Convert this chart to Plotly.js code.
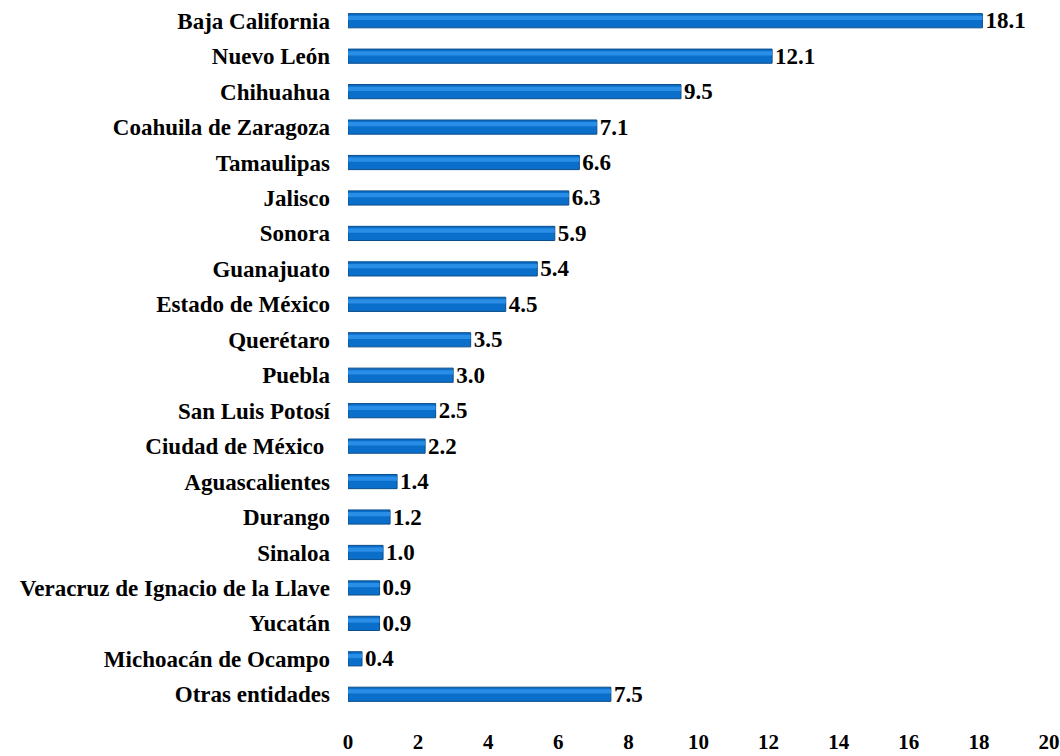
<!DOCTYPE html>
<html>
<head>
<meta charset="utf-8">
<script src="https://cdn.plot.ly/plotly-3.0.1.min.js"></script>
<style>html,body{margin:0;padding:0;background:#fff;}#chart{width:1060px;height:756px;}</style>
</head>
<body>
<div id="chart"></div>
<script>
const states = ["Baja California","Nuevo León","Chihuahua","Coahuila de Zaragoza","Tamaulipas","Jalisco","Sonora","Guanajuato","Estado de México","Querétaro","Puebla","San Luis Potosí","Ciudad de México ","Aguascalientes","Durango","Sinaloa","Veracruz de Ignacio de la Llave","Yucatán","Michoacán de Ocampo","Otras entidades"];
const values = [18.1,12.1,9.5,7.1,6.6,6.3,5.9,5.4,4.5,3.5,3.0,2.5,2.2,1.4,1.2,1.0,0.9,0.9,0.4,7.5];
const xTicks = [0,2,4,6,8,10,12,14,16,18,20];

const fam = "Liberation Serif, Times New Roman, serif";

const main = {
  type: "bar", orientation: "h", x: values, y: states,
  marker: {color: "#0A6FCB", line: {color: "#0B4C88", width: 1}},
  width: 0.4,
  text: values.map(v => "<b>" + v.toFixed(1) + "</b>"),
  textposition: "outside", cliponaxis: false, constraintext: "none",
  textfont: {family: fam, size: 23, color: "#000"},
  hoverinfo: "skip"
};
const shine = {
  type: "bar", orientation: "h", x: values, y: states,
  marker: {color: "#2B8EE6", line: {width: 0}},
  width: 0.12, offset: -0.14,
  hoverinfo: "skip"
};

const layout = {
  width: 1060, height: 756,
  margin: {l: 348, r: 11, t: 3, b: 44},
  paper_bgcolor: "#fff", plot_bgcolor: "#fff",
  showlegend: false,
  barmode: "overlay",
  font: {family: fam, size: 21, color: "#000"},
  xaxis: {
    range: [0, 20], tickvals: xTicks, ticktext: xTicks.map(t => "<b>" + t + "</b>"),
    showgrid: false, zeroline: false, showline: false, ticks: "",
    ticklabelstandoff: 15, tickfont: {family: fam, size: 21, color: "#000"}, fixedrange: true
  },
  yaxis: {
    autorange: "reversed", showgrid: false, zeroline: false, showline: false, ticks: "",
    tickvals: states, ticktext: states.map(s => "<b>" + s + "</b>"),
    ticklabelstandoff: 17, tickfont: {family: fam, size: 23, color: "#000"}, fixedrange: true
  }
};
Plotly.newPlot("chart", [main, shine], layout, {staticPlot: true});
</script>
</body>
</html>
